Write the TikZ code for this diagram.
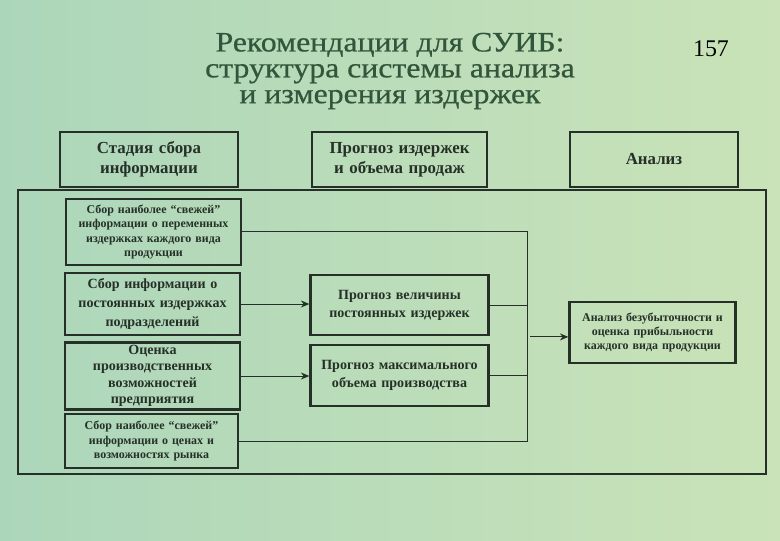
\documentclass[tikz,border=0pt]{standalone}
\usepackage{fontspec}
\setmainfont{Liberation Serif}
\newfontfamily\titlefont[FakeStretch=1.13,FakeBold=0.6]{Liberation Serif}
\usetikzlibrary{arrows.meta}
\definecolor{bgleft}{RGB}{172,214,186}
\definecolor{bgright}{RGB}{202,227,184}
\definecolor{ink}{RGB}{38,48,40}
\definecolor{titlegreen}{RGB}{50,86,60}
\begin{document}
\begin{tikzpicture}[x=0.025cm, y=-0.025cm,
  box/.style={draw=ink, line width=1.9pt, align=center, inner sep=2pt, text=ink},
  head/.style={box, minimum height=1.375cm, font=\bfseries\fontsize{12}{14}\selectfont},
  link/.style={draw=ink, line width=0.6pt},
  feed/.style={link, -{Stealth[length=6pt,width=5pt]}}]
  \useasboundingbox (0,0) rectangle (780,540);
  \shade[left color=bgleft, right color=bgright] (0,0) rectangle (780,540);
  % title
  \node[titlegreen, align=center, font=\titlefont\fontsize{20}{18.4}\selectfont] (title) at (390,71)
    {Рекомендации для СУИБ:\\структура системы анализа\\и измерения издержек};
  \node[font=\fontsize{17}{20}\selectfont] (page) at (711,49) {157};
  % stages
  \node[head, minimum width=4.45cm, text width=4cm] (stage) at (149,159.5) {Стадия сбора\\информации};
  \node[head, minimum width=4.375cm, text width=4cm] (forecast) at (399.5,159.5) {Прогноз издержек\\и объема продаж};
  \node[head, minimum width=4.2cm, text width=3.9cm] (analysis) at (654,159.5) {Анализ};
  \node[draw=ink, line width=1.4pt, minimum width=18.7cm, minimum height=7.1cm] (frame) at (392,332) {};
  % data collection
  \node[box, minimum width=4.375cm, minimum height=1.65cm, text width=4.2cm,
    font=\bfseries\fontsize{8.5}{10.3}\selectfont] (varcost) at (153.5,232)
    {Сбор наиболее “свежей”\\информации о переменных\\издержках каждого вида\\продукции};
  \node[box, minimum width=4.375cm, minimum height=1.55cm, text width=4.2cm,
    font=\bfseries\fontsize{10}{13.5}\selectfont] (fixcost) at (152.5,304)
    {Сбор информации о\\постоянных издержках\\подразделений};
  \node[box, minimum width=4.375cm, minimum height=1.6cm, text width=4.2cm,
    font=\bfseries\fontsize{10}{11.7}\selectfont] (capacity) at (152.5,376)
    {Оценка\\производственных\\возможностей\\предприятия};
  \node[box, minimum width=4.325cm, minimum height=1.35cm, text width=4.15cm,
    font=\bfseries\fontsize{8.5}{10.5}\selectfont] (market) at (151.5,441)
    {Сбор наиболее “свежей”\\информации о ценах и\\возможностях рынка};
  % forecasts
  \node[box, minimum width=4.425cm, minimum height=1.5cm, text width=4.3cm,
    font=\bfseries\fontsize{10}{12.7}\selectfont] (fixfc) at (399.5,305)
    {Прогноз величины\\постоянных издержек};
  \node[box, minimum width=4.425cm, minimum height=1.525cm, text width=4.3cm,
    font=\bfseries\fontsize{10}{12.7}\selectfont] (volfc) at (399.5,375.5)
    {Прогноз максимального\\объема производства};
  % analysis
  \node[box, minimum width=4.125cm, minimum height=1.525cm, text width=4cm,
    font=\bfseries\fontsize{8.5}{10.3}\selectfont] (breakeven) at (652.5,332.5)
    {Анализ безубыточности и\\оценка прибыльности\\каждого вида продукции};
  % connectors
  \coordinate (bustop) at (527,231);
  \coordinate (busbot) at (527,441);
  \draw[link] (varcost.east |- bustop) -- (bustop) -- (busbot) -- (market.east);
  \draw[feed] (fixcost.east) -- (fixcost.east -| fixfc.west);
  \draw[feed] (capacity.east) -- (capacity.east -| volfc.west);
  \draw[link] (fixfc.east) -- (fixfc.east -| bustop);
  \draw[link] (volfc.east) -- (volfc.east -| bustop);
  \draw[feed, shorten <=2pt] ([yshift=-0.11cm]breakeven.west -| bustop) -- ([yshift=-0.11cm]breakeven.west);
\end{tikzpicture}
\end{document}
